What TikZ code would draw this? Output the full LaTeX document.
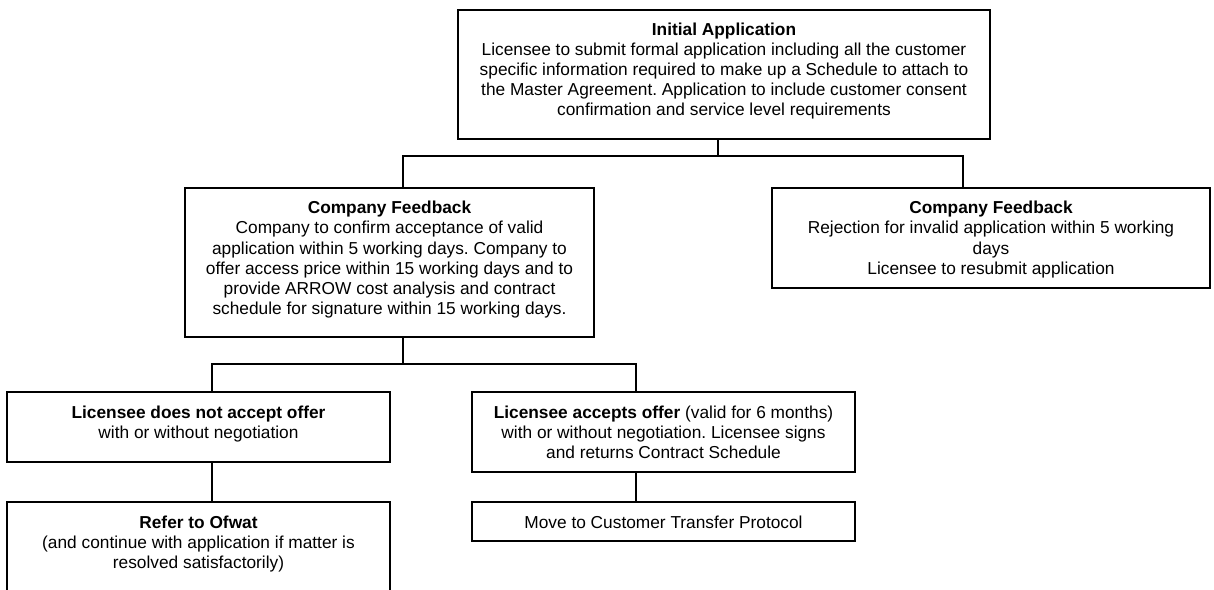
\documentclass[tikz,border=0pt]{standalone}
\usepackage{fontspec}
\setmainfont{Liberation Sans}
\usetikzlibrary{calc}

% box content: fixed width and height, lines centred, first baseline 26bp below the top
\newcommand\bxt[3]{\parbox[c][#2][t]{#1}{\centering\frenchspacing\rule{0pt}{26bp}#3}}

\begin{document}
\begin{tikzpicture}[x=1bp,y=-1bp,
  flowbox/.style={draw=black,line width=1.6bp,inner sep=0pt,outer sep=0pt,anchor=north west,
    font=\fontsize{17.3bp}{20bp}\selectfont},
  link/.style={draw=black,line width=1.6bp}]
\clip (0,0) rectangle (1214,590);
\fill[white] (0,0) rectangle (1214,590);

% boxes
\node[flowbox] (init) at (458,10) {\bxt{532bp}{129bp}{\textbf{Initial Application}\\
  Licensee to submit formal application including all the customer\\
  specific information required to make up a Schedule to attach to\\
  the Master Agreement. Application to include customer consent\\
  confirmation and service level requirements}};

\node[flowbox] (fbok) at (185,188) {\bxt{409bp}{149bp}{\textbf{Company Feedback}\\
  Company to confirm acceptance of valid\\
  application within 5 working days. Company to\\
  offer access price within 15 working days and to\\
  provide ARROW cost analysis and contract\\
  schedule for signature within 15 working days.}};

\node[flowbox] (fbno) at (772,188) {\bxt{438bp}{100bp}{\textbf{Company Feedback}\\
  Rejection for invalid application within 5 working\\
  days\\
  Licensee to resubmit application}};

\node[flowbox] (noacc) at (7,392) {\bxt{383bp}{70bp}{\textbf{Licensee does not accept offer}\\
  with or without negotiation}};

\node[flowbox] (acc) at (472,392) {\bxt{383bp}{80bp}{\textbf{Licensee accepts offer} (valid for 6 months)\\
  with or without negotiation. Licensee signs\\
  and returns Contract Schedule}};

\node[flowbox] (ofwat) at (7,502) {\bxt{383bp}{110bp}{\textbf{Refer to Ofwat}\\
  (and continue with application if matter is\\
  resolved satisfactorily)}};

\node[flowbox] (move) at (472,502) {\bxt{383bp}{39bp}{Move to Customer Transfer Protocol}};

% junction points of the connectors
\coordinate (j1) at (718,156);
\coordinate (t1) at (403,156);
\coordinate (t2) at (963,156);
\coordinate (j2) at (403,364);
\coordinate (t3) at (212,364);
\coordinate (t4) at (636,364);

% connectors
\draw[link] (init.south -| j1) -- (j1);
\draw[link] (t1 |- fbok.north) -- (t1) -- (t2) -- (t2 |- fbno.north);
\draw[link] (fbok.south -| j2) -- (j2);
\draw[link] (t3 |- noacc.north) -- (t3) -- (t4) -- (t4 |- acc.north);
\draw[link] (noacc.south -| t3) -- (t3 |- ofwat.north);
\draw[link] (acc.south -| t4) -- (t4 |- move.north);
\end{tikzpicture}
\end{document}
